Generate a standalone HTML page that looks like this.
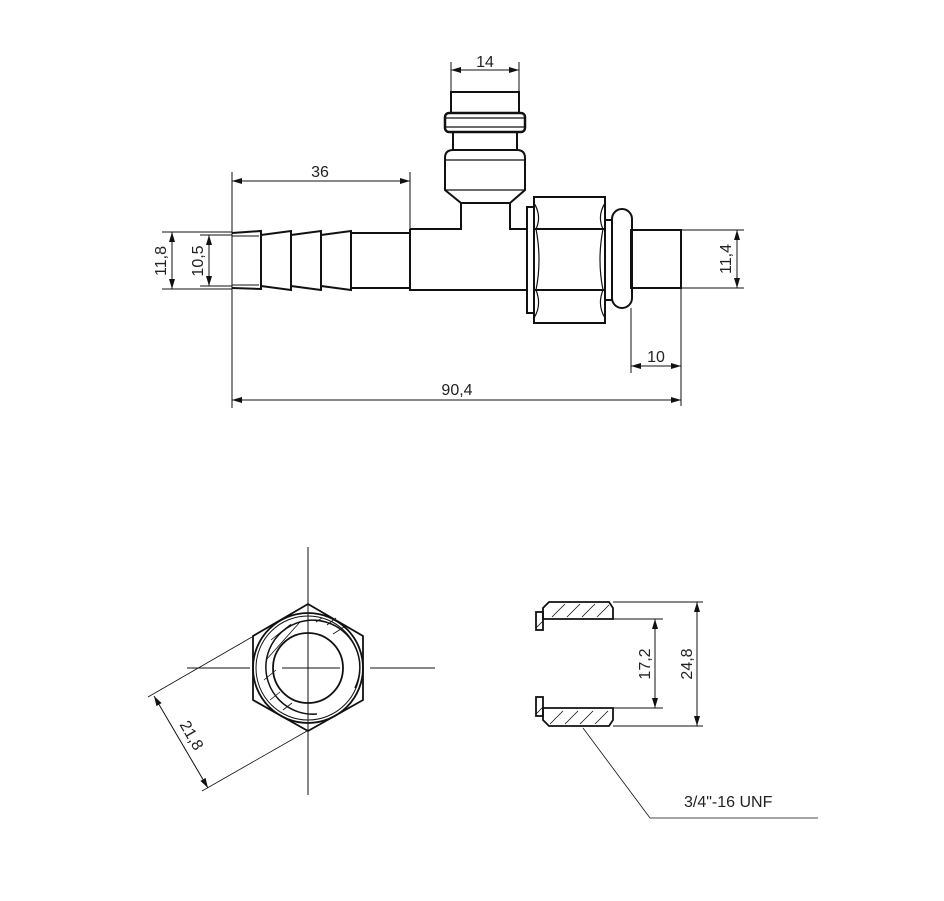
<!DOCTYPE html>
<html><head><meta charset="utf-8"><style>
html,body{margin:0;padding:0;background:#fff;}
svg{display:block;}
text{font-family:"Liberation Sans",sans-serif;font-size:16px;fill:#222;}
</style></head><body>
<svg width="944" height="901" viewBox="0 0 944 901" xmlns="http://www.w3.org/2000/svg">
<defs>
<marker id="a" viewBox="0 0 10 6" refX="10" refY="3" markerWidth="10" markerHeight="6" orient="auto-start-reverse" markerUnits="userSpaceOnUse"><path d="M0,0L10,3L0,6z" fill="#111"/></marker>
</defs>
<g fill="none" stroke="#111" stroke-width="2">
<path d="M232,233 L261,231 L261,289 L232,288"/>
<path d="M261,235 L291,231 L291,290 L261,286"/>
<path d="M291,235 L321,231 L321,290 L291,286"/>
<path d="M321,235 L351,231 L351,290 L321,286"/>
<path d="M351,233 L410,233 M351,288 L410,288"/>
<path d="M232,236 L259,236 M232,285 L259,285" stroke-width="1"/>
<path d="M410,229 L410,290 L527,290 M410,229 L461,229 L461,203 M510,203 L510,229 L527,229"/>
<rect x="451" y="92" width="68" height="21"/>
<rect x="445" y="113" width="80" height="19" rx="4" stroke-width="2.5"/>
<line x1="446" y1="118" x2="524" y2="118" stroke-width="1.2"/>
<line x1="446" y1="127" x2="524" y2="127" stroke-width="1.2"/>
<rect x="453" y="132" width="64" height="18"/>
<path d="M453,150 L517,150 Q525,150 525,158 L525,190 L510,203 L461,203 L445,190 L445,158 Q445,150 453,150 Z"/>
<line x1="445" y1="160" x2="525" y2="160" stroke-width="1.2"/>
<line x1="445" y1="190" x2="525" y2="190" stroke-width="1.2"/>
<rect x="527" y="207" width="7" height="106"/>
<rect x="534" y="197" width="71" height="126"/>
<line x1="534" y1="229" x2="605" y2="229"/>
<line x1="534" y1="290" x2="605" y2="290"/>
<path d="M534,203 Q542,216 536,229 Q542,260 536,290 Q542,305 534,318 M605,203 Q597,216 603,229 Q597,260 603,290 Q597,305 605,318" stroke-width="1.2"/>
<rect x="605" y="220" width="7" height="80"/>
<rect x="612" y="209" width="20" height="99" rx="10"/>
<rect x="631" y="230" width="50" height="58"/>
</g>
<g stroke="#111" stroke-width="1" fill="none">
<line x1="232" y1="172" x2="232" y2="408"/><line x1="410" y1="172" x2="410" y2="229"/>
<line x1="232" y1="181" x2="410" y2="181" marker-start="url(#a)" marker-end="url(#a)"/>
<line x1="451" y1="62" x2="451" y2="92"/><line x1="519" y1="62" x2="519" y2="92"/>
<line x1="451" y1="70" x2="519" y2="70" marker-start="url(#a)" marker-end="url(#a)"/>
<line x1="162" y1="232" x2="232" y2="232"/><line x1="162" y1="289" x2="232" y2="289"/>
<line x1="172" y1="232" x2="172" y2="289" marker-start="url(#a)" marker-end="url(#a)"/>
<line x1="200" y1="235" x2="232" y2="235"/><line x1="200" y1="286" x2="232" y2="286"/>
<line x1="209" y1="235" x2="209" y2="286" marker-start="url(#a)" marker-end="url(#a)"/>
<line x1="681" y1="230" x2="744" y2="230"/><line x1="681" y1="288" x2="744" y2="288"/>
<line x1="737" y1="230" x2="737" y2="288" marker-start="url(#a)" marker-end="url(#a)"/>
<line x1="631" y1="308" x2="631" y2="373"/><line x1="681" y1="288" x2="681" y2="406"/>
<line x1="631" y1="366" x2="681" y2="366" marker-start="url(#a)" marker-end="url(#a)"/>
<line x1="232" y1="400" x2="681" y2="400" marker-start="url(#a)" marker-end="url(#a)"/>
</g>
<text x="320" y="177" text-anchor="middle">36</text>
<text x="485" y="67" text-anchor="middle">14</text>
<text x="656" y="362" text-anchor="middle">10</text>
<text x="457" y="395" text-anchor="middle">90,4</text>
<text transform="translate(166,261) rotate(-90)" text-anchor="middle">11,8</text>
<text transform="translate(203,261) rotate(-90)" text-anchor="middle">10,5</text>
<text transform="translate(731,259) rotate(-90)" text-anchor="middle">11,4</text>
<g fill="none" stroke="#111">
<line x1="308" y1="547" x2="308" y2="795" stroke-width="1"/>
<line x1="187" y1="668" x2="250" y2="668" stroke-width="1"/>
<line x1="370" y1="668" x2="435" y2="668" stroke-width="1"/>
<line x1="282" y1="668" x2="340" y2="668" stroke-width="1"/>
<polygon points="308,604 363,636 363,700 308,731 253,700 253,636" stroke-width="1.8"/>
<circle cx="308" cy="668" r="55" stroke-width="1.8"/>
<circle cx="308" cy="668" r="52" stroke-width="1"/>
<circle cx="308" cy="668" r="35" stroke-width="1.8"/>
<path d="M355,688 A47,47 0 1 0 317,714" stroke-width="1.5"/>
<path d="M271,640 L291,624 M266,660 L300,622 M264,680 L276,670 M270,700 L280,692 M283,710 L292,703 M333,634 L344,627 M327,625 L336,618 M316,622 L322,618" stroke-width="0.8"/>
<line x1="252" y1="637" x2="148" y2="697" stroke-width="0.8"/>
<line x1="307" y1="731" x2="202" y2="791" stroke-width="0.8"/>
<line x1="154" y1="696" x2="208" y2="788" stroke-width="1" marker-start="url(#a)" marker-end="url(#a)"/>
</g>
<text transform="translate(187,738) rotate(60)" text-anchor="middle">21,8</text>
<g fill="none" stroke="#111" stroke-width="1.8">
<path d="M549,602 L609,602 L613,608 L613,619 L543,619 L543,608 Z"/>
<rect x="536" y="612" width="7" height="18"/>
<path d="M543,708 L613,708 L613,720 L609,726 L549,726 L543,720 Z"/>
<rect x="536" y="697" width="7" height="19"/>
</g>
<g stroke="#111" stroke-width="0.8" fill="none">
<path d="M552,617 L565,604 M567,617 L580,604 M582,617 L595,604 M597,617 L609,605 M550,724 L563,711 M565,724 L578,711 M580,724 L593,711 M595,724 L608,711 M536,628 L543,621 M536,714 L543,707"/>
</g>
<g stroke="#111" stroke-width="1" fill="none">
<line x1="613" y1="602" x2="703" y2="602"/><line x1="613" y1="726" x2="703" y2="726"/>
<line x1="613" y1="619" x2="663" y2="619"/><line x1="613" y1="708" x2="663" y2="708"/>
<line x1="655" y1="619" x2="655" y2="708" marker-start="url(#a)" marker-end="url(#a)"/>
<line x1="697" y1="602" x2="697" y2="726" marker-start="url(#a)" marker-end="url(#a)"/>
<polyline points="583,728 650,818 818,818" stroke-width="0.8"/>
</g>
<text transform="translate(650,664) rotate(-90)" text-anchor="middle">17,2</text>
<text transform="translate(692,664) rotate(-90)" text-anchor="middle">24,8</text>
<text x="684" y="807">3/4"-16 UNF</text>
</svg>
</body></html>
